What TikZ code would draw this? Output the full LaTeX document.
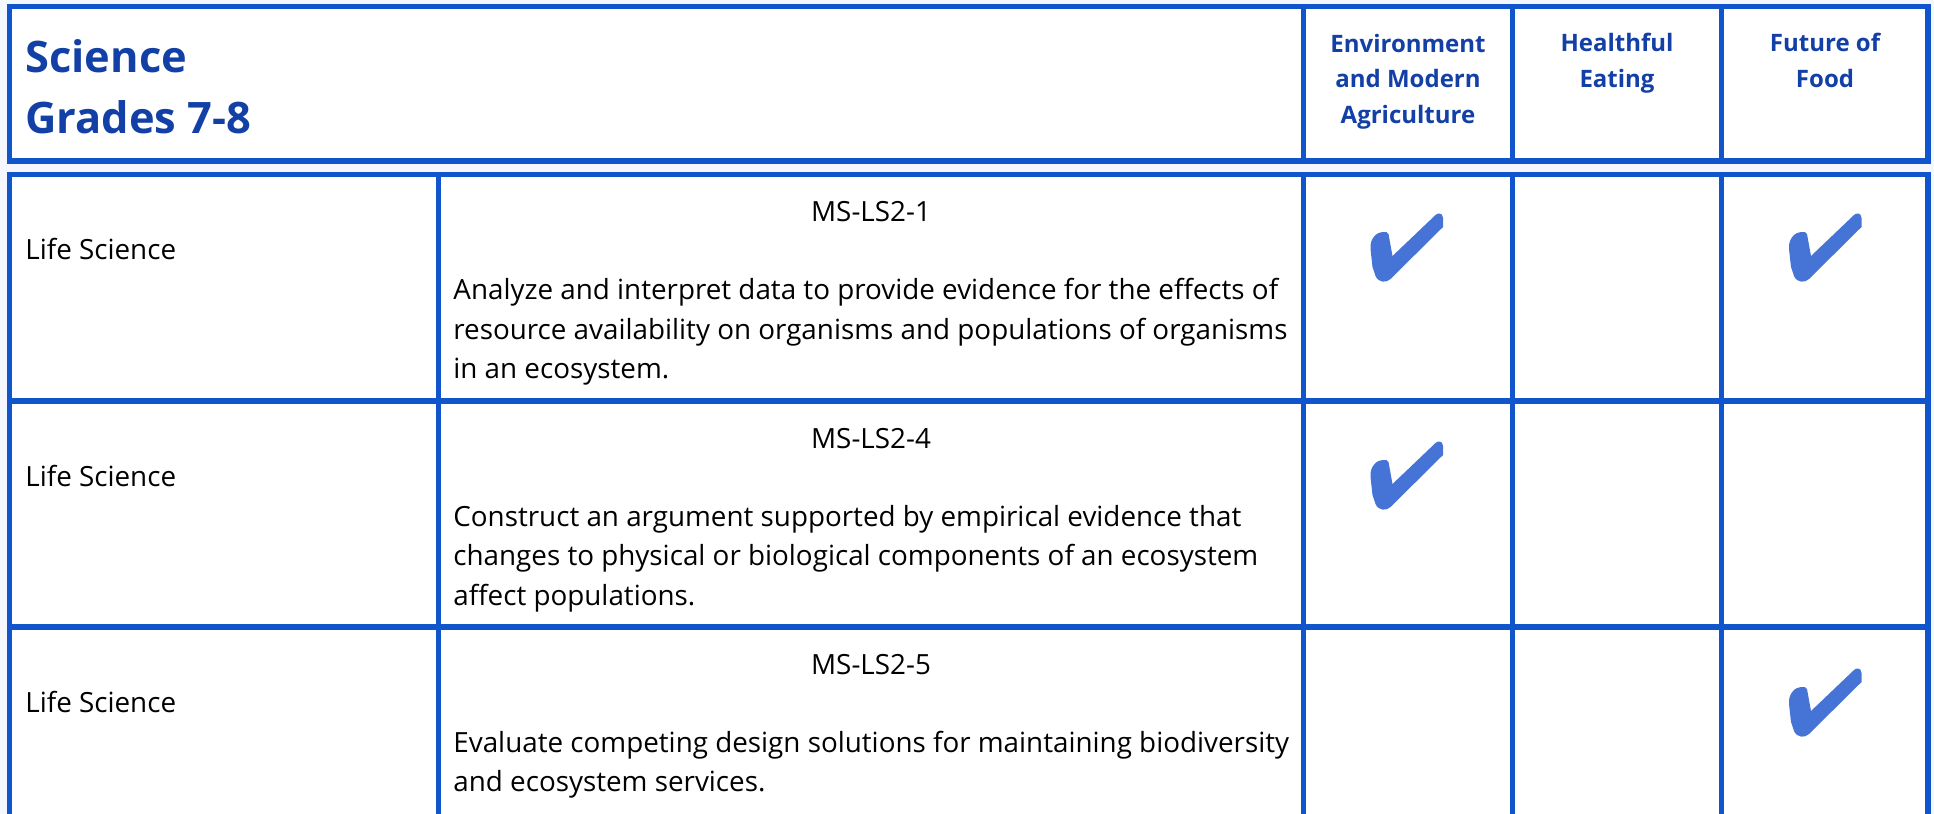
\documentclass[tikz,border=0pt]{standalone}
\usepackage{fontspec}
\setmainfont{Open Sans}
\definecolor{lineblue}{HTML}{1155CC}
\definecolor{headblue}{HTML}{1340A6}
\definecolor{tickblue}{HTML}{4673D6}
\definecolor{pageblue}{HTML}{F4F7FE}

\begin{document}
\begin{tikzpicture}[x=0.5pt,y=-0.5pt,
  grid/.style={draw=lineblue, line width=2.6pt},
  body/.style={inner sep=0pt, font=\fontsize{13.9}{19.75}\selectfont},
  head/.style={inner sep=0pt, align=center, text=headblue, font=\fontsize{12}{17.75}\selectfont\bfseries},
  tickmark/.pic={
    \fill[tickblue] (-18,-13) -- (-14,9) -- (29,-32) .. controls (31,-34) and (36,-35) .. (36.5,-29)
      -- (36.5,-20) -- (-16,32) .. controls (-20,36) and (-28,36) .. (-31,29)
      -- (-34,20) -- (-36,2) .. controls (-37,-9) and (-29,-15) .. (-24,-15)
      .. controls (-21,-15) and (-18,-15) .. (-18,-13) -- cycle;
  }]

\useasboundingbox (0,0) rectangle (1934,814);
\clip (0,0) rectangle (1934,814);
\fill[pageblue] (0,0) rectangle (1934,814);

% header band
\path[grid, fill=white] (9.6,6.5) rectangle (1928,161);
\foreach \x in {1303.5,1512.5,1721.5}
  \draw[grid] (\x,6.5) -- (\x,161);

% table body
\path[grid, fill=white] (9.6,174.5) rectangle (1928,853);
\foreach \x in {438.5,1303.5,1512.5,1721.5}
  \draw[grid] (\x,174.5) -- (\x,853);
\foreach \y in {401,627}
  \draw[grid] (9.6,\y) -- (1928,\y);

% multi-line nodes sit on the baseline of their last line
\node[inner sep=0pt, anchor=base west, align=left, text=headblue,
  font=\fontsize{21.7}{30.5}\selectfont\bfseries] (title) at (25,133) {Science\\Grades 7-8};

\node[head, anchor=base] (env) at (1408,123) {Environment\\and Modern\\Agriculture};
\node[head, anchor=base] (eat) at (1617,87) {Healthful\\Eating};
\node[head, anchor=base] (food) at (1825,87) {Future of\\Food};

% row 1
\node[body, anchor=base west] (area1) at (25,259.5) {Life Science};
\node[body, anchor=base] (code1) at (871,221.5) {MS-LS2-1};
\node[body, anchor=base west, align=left] (text1) at (453,378.5)
  {Analyze and interpret data to provide evidence for the effects of\\
   resource availability on organisms and populations of organisms\\
   in an ecosystem.};
\pic at (1406.5,247) {tickmark};
\pic at (1825,247) {tickmark};

% row 2
\node[body, anchor=base west] (area2) at (25,486) {Life Science};
\node[body, anchor=base] (code2) at (871,448) {MS-LS2-4};
\node[body, anchor=base west, align=left] (text2) at (453,605)
  {Construct an argument supported by empirical evidence that\\
   changes to physical or biological components of an ecosystem\\
   affect populations.};
\pic at (1406.5,475) {tickmark};

% row 3
\node[body, anchor=base west] (area3) at (25,712) {Life Science};
\node[body, anchor=base] (code3) at (871,674) {MS-LS2-5};
\node[body, anchor=base west, align=left] (text3) at (453,791.5)
  {Evaluate competing design solutions for maintaining biodiversity\\
   and ecosystem services.};
\pic at (1825,702) {tickmark};
\end{tikzpicture}
\end{document}
